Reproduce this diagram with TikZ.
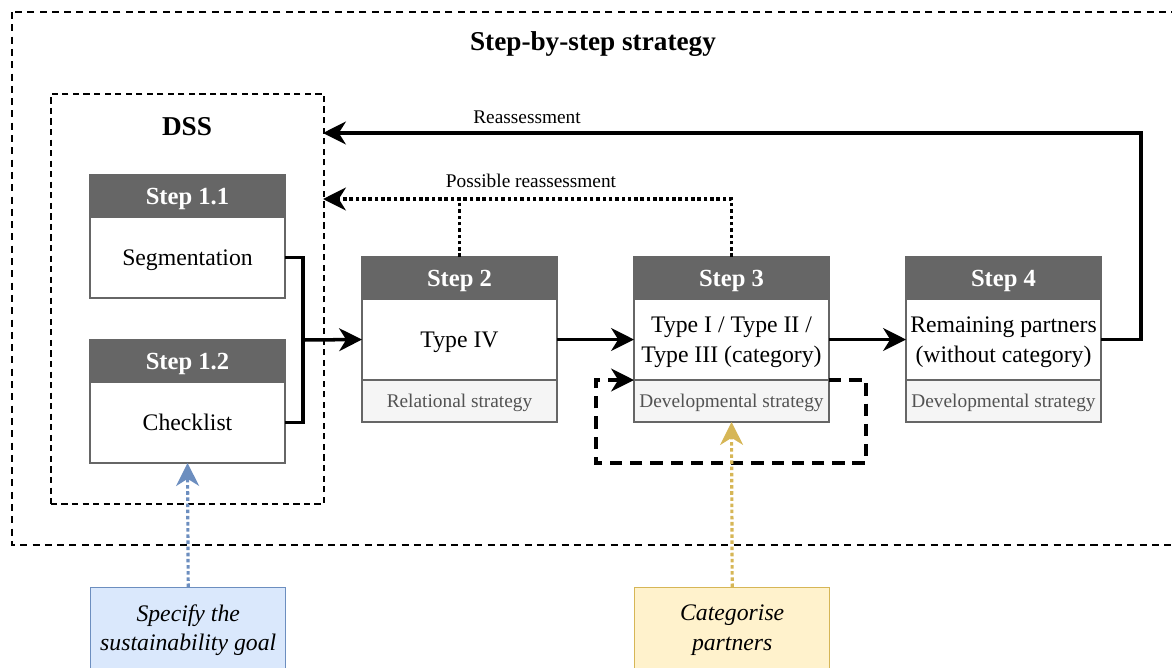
\documentclass[tikz,border=0pt]{standalone}
\usepackage{fontspec}
\setmainfont{Liberation Serif}
\usetikzlibrary{positioning,arrows.meta}
\definecolor{hdgray}{HTML}{666666}
\definecolor{stgray}{HTML}{F5F5F5}
\definecolor{bluefill}{HTML}{DAE8FC}
\definecolor{blueline}{HTML}{6C8EBF}
\definecolor{yelfill}{HTML}{FFF2CC}
\definecolor{yelline}{HTML}{D6B656}
\tikzset{
 head/.style={draw=hdgray,fill=hdgray,text=white,font=\fontsize{14}{16}\selectfont\bfseries,minimum width=3.9cm,minimum height=.84cm,text depth=0pt,inner sep=0pt,outer sep=0pt,line width=.8pt},
 body/.style={draw=hdgray,fill=white,font=\fontsize{13.5}{17}\selectfont,align=center,minimum width=3.9cm,minimum height=1.62cm,text depth=0pt,inner sep=1pt,outer sep=0pt,line width=.8pt},
 strat/.style={draw=hdgray,fill=stgray,text=hdgray!80!black,font=\fontsize{11}{13}\selectfont,minimum width=3.9cm,minimum height=.84cm,text depth=0pt,inner sep=0pt,outer sep=0pt,line width=.8pt},
 task/.style={anchor=north west,minimum width=3.9cm,minimum height=1.7cm,align=center,inner sep=0pt,line width=.8pt,font=\fontsize{13.5}{17}\selectfont\itshape},
 tip/.style={-{Stealth[length=13pt,width=13pt,inset=4pt]}},
 flow/.style={tip,line width=2pt},
 dotline/.style={line width=2pt,dash pattern=on 2pt off 1.6pt},
 lbl/.style={font=\fontsize{11}{13}\selectfont}
}
\begin{document}
\begin{tikzpicture}[x=.2mm,y=-.2mm,line join=miter]
\useasboundingbox(0,0)rectangle(1172,667);\clip(0,0)rectangle(1172,667);
% outer frame and DSS frame
\draw[line width=1pt,dash pattern=on 4pt off 3pt](12,12)rectangle(1200,545);
\node[font=\fontsize{15.5}{18}\selectfont\bfseries](title)at(593,44){Step-by-step strategy};
\node[draw,line width=1pt,dash pattern=on 3.5pt off 2.5pt,minimum width=5.46cm,minimum height=8.2cm,anchor=north west,inner sep=0pt](dss)at(50,93){};
\node[font=\fontsize{15.5}{18}\selectfont\bfseries](dsslab)at(187,127){DSS};
\coordinate(re)at(323,133);\coordinate(pr)at(323,199);\coordinate(jn)at(303,340);\coordinate(l1)at(866,463);\coordinate(l2)at(596,463);
% steps
\foreach\n/\t/\y/\b in{11/1.1/175/Segmentation,12/1.2/340/Checklist}{\node[head,anchor=north west](h\n)at(90,\y){Step \t};\node[body,below=0pt of h\n](b\n){\b};}
\foreach\n/\x/\b/\s in{2/362/{Type IV}/{Relational strategy},3/634/{Type I / Type II /\\Type III (category)}/{Developmental strategy},4/906/{Remaining partners\\(without category)}/{Developmental strategy}}{\node[head,anchor=north west](h\n)at(\x,257){Step \n};\node[body,below=0pt of h\n](b\n){\b};\node[strat,below=0pt of b\n](s\n){\s};}
\node[task,draw=blueline,fill=bluefill](goal)at(90,587){Specify the\\sustainability goal};
\node[task,draw=yelline,fill=yelfill](cat)at(634,587){Categorise\\partners};
% connectors
\draw[line width=2pt](b11.east)-|(jn) (b12.east)-|(jn);
\draw[flow](jn)--(b2.west);\draw[flow](b2.east)--(b3.west);\draw[flow](b3.east)--(b4.west);
\draw[flow](b4.east)--++(40,0)|-(re);\node[lbl](relab)at(527,117){Reassessment};
\draw[dotline](h2.north)--(h2.north|-pr);\draw[dotline,tip](h3.north)|-(pr);\node[lbl](prlab)at(531,181){Possible reassessment};
\draw[flow,dash pattern=on 7pt off 4.5pt](s3.north east)-|(l1)--(l2)|-(s3.north west);
\draw[blueline,line width=1.8pt,dash pattern=on 2pt off 1.5pt,-{Stealth[length=13pt,width=13pt,inset=4pt,fill=blueline]}](goal.north)--(b12.south);
\draw[yelline,line width=1.8pt,dash pattern=on 2pt off 1.5pt,-{Stealth[length=13pt,width=13pt,inset=4pt,fill=yelline]}](cat.north)--(s3.south);
\end{tikzpicture}
\end{document}
